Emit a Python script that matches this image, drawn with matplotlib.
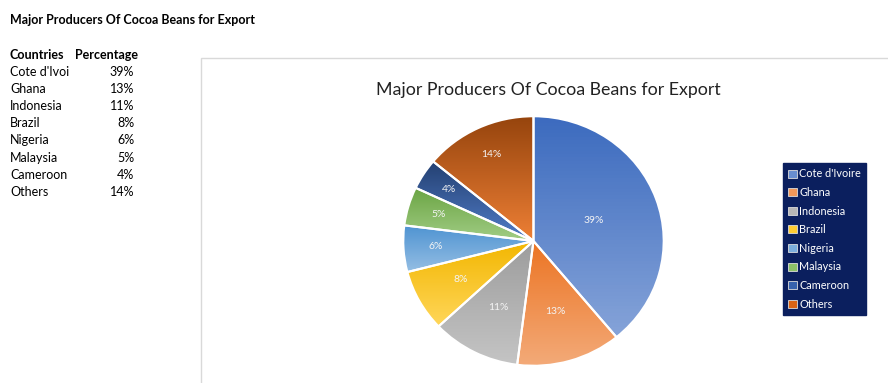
import matplotlib
matplotlib.use("Agg")
import matplotlib.pyplot as plt
import matplotlib.colors as mcolors
from matplotlib.patches import Rectangle, Patch
import colorsys
import numpy as np

plt.rcParams['font.family'] = ['Lato', 'DejaVu Sans']

# data
countries = ["Cote d'Ivoire", "Ghana", "Indonesia", "Brazil", "Nigeria", "Malaysia", "Cameroon", "Others"]
table_names = ["Cote d'Ivoi", "Ghana", "Indonesia", "Brazil", "Nigeria", "Malaysia", "Cameroon", "Others"]
percentages = [39, 13, 11, 8, 6, 5, 4, 14]
title = "Major Producers Of Cocoa Beans for Export"

colors = ['#4472C4', '#ED7D31', '#A5A5A5', '#FFC000', '#5B9BD5', '#70AD47', '#264478', '#9E480E']
label_dist = [0.49, 0.59, 0.60, 0.64, 0.75, 0.76, 0.77, 0.77]

W, H = 888, 383
fig = plt.figure(figsize=(W / 100, H / 100), dpi=100)


def fx(px):
    return px / W


def fy(py):
    return 1 - py / H


def shift_lightness(c, k):
    # k < 0 darkens, k > 0 moves lightness towards white, hue/saturation kept
    h, l, s = colorsys.rgb_to_hls(*mcolors.to_rgb(c))
    l = l * (1 + k) if k < 0 else l + (1 - l) * k
    return np.array(colorsys.hls_to_rgb(h, l, s))


# chart area border (behind everything)
fig.patches.append(Rectangle((fx(201), fy(395)), fx(700), 337 / H, transform=fig.transFigure,
                             facecolor='none', edgecolor='#D9D9D9', linewidth=1.0, zorder=-5))

# left data table
fs = 9.0
fig.text(fx(10), fy(20), title, fontsize=fs, fontweight='bold', va='center', ha='left')
fig.text(fx(10), fy(55), "Countries", fontsize=fs, fontweight='bold', va='center', ha='left')
fig.text(fx(75), fy(55), "Percentage", fontsize=fs, fontweight='bold', va='center', ha='left')
for i, (name, p) in enumerate(zip(table_names, percentages)):
    y = 72 + i * 17.1
    fig.text(fx(10), fy(y), name, fontsize=fs, va='center', ha='left')
    fig.text(fx(134), fy(y), f"{p}%", fontsize=fs, va='center', ha='right')

# chart title
fig.text(fx(548), fy(90), title, fontsize=12.8, va='center', ha='center', color='#222222')

# pie
ax = fig.add_axes([fx(402), fy(367), 263 / W, 252 / H])
wedges, _ = ax.pie(percentages, colors=colors, startangle=90, counterclock=False,
                   wedgeprops=dict(edgecolor='white', linewidth=1.5))
ax.axis('off')

# gradient fill per slice: base colour at top, lighter towards bottom
for w, c in zip(wedges, colors):
    top = shift_lightness(c, -0.05)
    bottom = shift_lightness(c, 0.35)
    verts = w.get_path().vertices
    x0, y0 = verts.min(axis=0)
    x1, y1 = verts.max(axis=0)
    t = np.linspace(0, 1, 64)[:, None]
    grad = np.clip(top[None, :] * (1 - t) + bottom[None, :] * t, 0, 1)[:, None, :]
    im = ax.imshow(grad, extent=[x0, x1, y0, y1], aspect='auto', zorder=1, origin='upper')
    im.set_clip_path(w)
    w.set_facecolor('none')
    w.set_zorder(2)
ax.set_xlim(-1.01, 1.01)
ax.set_ylim(-1.01, 1.01)
ax.set_aspect('auto')

# percentage labels
angle = 90.0
for p, d in zip(percentages, label_dist):
    span = p / 100 * 360
    mid = np.deg2rad(angle - span / 2)
    ax.text(d * np.cos(mid), d * np.sin(mid), f"{p}%", color='#F4F4F4', fontsize=7.5,
            ha='center', va='center', zorder=3)
    angle -= span

# legend
handles = [Patch(facecolor=shift_lightness(c, 0.2), edgecolor='#DDDDDD', linewidth=0.6) for c in colors]
leg = fig.legend(handles, countries, loc='upper left', bbox_to_anchor=(fx(783), fy(163)),
                 frameon=True, fancybox=False, facecolor='#0B1F5E', edgecolor='#0B1F5E',
                 framealpha=1, fontsize=7.8, handlelength=0.75, handleheight=0.75,
                 handletextpad=0.25, labelspacing=0.7, borderpad=0.5, borderaxespad=0)
for txt in leg.get_texts():
    txt.set_color('white')

fig.savefig('out.png', dpi=100)
